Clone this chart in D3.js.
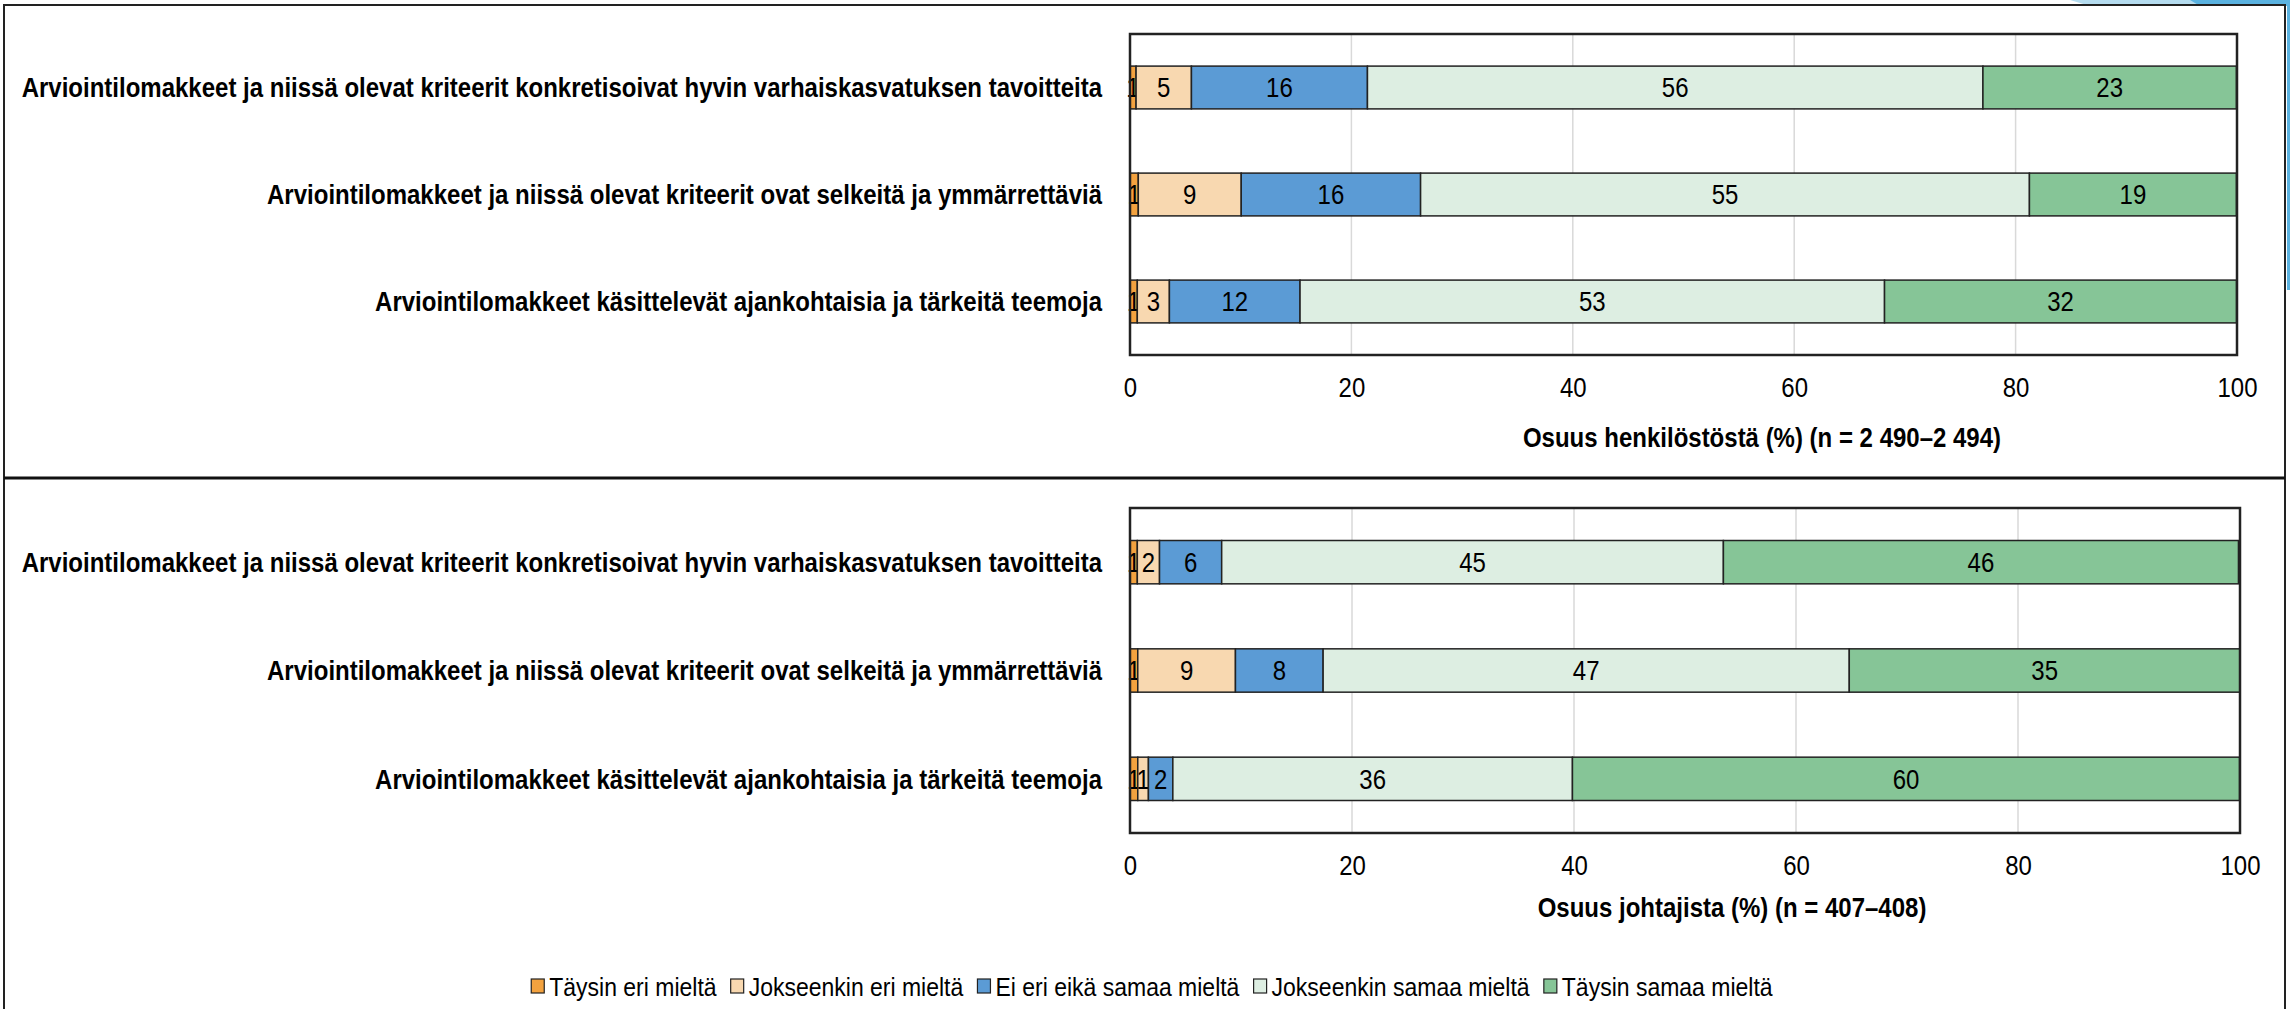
<!DOCTYPE html>
<html>
<head>
<meta charset="utf-8">
<script src="https://cdn.jsdelivr.net/npm/d3@7"></script>
<style>
  body { margin: 0; background: #fff; }
  svg { display: block; }
  text { font-family: "Liberation Sans", Arial, sans-serif; fill: #000; }
</style>
</head>
<body>
<svg id="chart" width="2290" height="1009"></svg>
<script>
// kysymykset (ylhäältä alas)
var categories = [
  "Arviointilomakkeet ja niissä olevat kriteerit konkretisoivat hyvin varhaiskasvatuksen tavoitteita",
  "Arviointilomakkeet ja niissä olevat kriteerit ovat selkeitä ja ymmärrettäviä",
  "Arviointilomakkeet käsittelevät ajankohtaisia ja tärkeitä teemoja"
];
var seriesNames = [
  "Täysin eri mieltä",
  "Jokseenkin eri mieltä",
  "Ei eri eikä samaa mieltä",
  "Jokseenkin samaa mieltä",
  "Täysin samaa mieltä"
];
var seriesColors = ["#f3a23f", "#f8d8b0", "#5b9bd5", "#ddeee2", "#86c597"];

// henkilöstö
var staffValues = [
  [0.55, 5.0, 15.9, 55.6, 22.9],
  [0.75, 9.3, 16.2, 55.0, 18.7],
  [0.66, 2.9, 11.8, 52.8, 31.8]
];
// johtajat
var leaderValues = [
  [0.66, 2.0, 5.6, 45.2, 46.4],
  [0.7, 8.8, 7.9, 47.4, 35.2],
  [0.7, 0.96, 2.2, 36.0, 60.1]
];
var xTicks = [0, 20, 40, 60, 80, 100];
var staffTitle = "Osuus henkilöstöstä (%) (n = 2 490–2 494)";
var leaderTitle = "Osuus johtajista (%) (n = 407–408)";

// alkuperäisessä kuvassa teksti on hieman venytetty pystysuunnassa
var stretchY = 1.15;
function stretch(sel) {
  sel.each(function () {
    var t = d3.select(this);
    var tx = +t.attr("x") || 0;
    var ty = +t.attr("y") || 0;
    t.attr("x", 0).attr("y", 0)
      .attr("transform", "translate(" + tx + "," + ty + ") scale(1," + stretchY + ")");
  });
}

var svg = d3.select("#chart");

// koriste oikeassa yläkulmassa
svg.append("path")
  .attr("d", "M2070,0 L2200,0 L2200,6 L2090,6 Z")
  .attr("fill", "#b5dcef");
svg.append("path")
  .attr("d", "M2190,0 L2290,0 L2290,290 L2287,290 L2287,6 L2200,6 Z")
  .attr("fill", "#5ab2e0");

// kehykset
svg.append("rect")
  .attr("x", 4).attr("y", 5)
  .attr("width", 2281).attr("height", 1020)
  .attr("fill", "none").attr("stroke", "#222").attr("stroke-width", 2);
svg.append("line")
  .attr("x1", 4).attr("x2", 2285)
  .attr("y1", 478).attr("y2", 478)
  .attr("stroke", "#111").attr("stroke-width", 3);

function drawPanel(values, box, title, titleX, titleY) {
  var rows = values.map(function (v, i) {
    var r = { cat: categories[i] };
    seriesNames.forEach(function (s, j) { r[s] = v[j]; });
    return r;
  });

  var x = d3.scaleLinear().domain([0, 100]).range([box.left, box.right]);
  var y = d3.scaleBand()
    .domain(categories)
    .range([box.top, box.bottom])
    .paddingInner(0.6)
    .paddingOuter(0.3);

  var g = svg.append("g");

  // ruudukko
  g.selectAll(".grid")
    .data(xTicks.slice(1, -1))
    .enter()
    .append("line")
    .attr("x1", function (d) { return x(d); })
    .attr("x2", function (d) { return x(d); })
    .attr("y1", box.top)
    .attr("y2", box.bottom)
    .attr("stroke", "#d9d9d9")
    .attr("stroke-width", 1.5);

  var stacked = d3.stack().keys(seriesNames)(rows);

  var layers = g.selectAll(".layer")
    .data(stacked)
    .enter()
    .append("g")
    .attr("fill", function (d, i) { return seriesColors[i]; });

  layers.selectAll("rect")
    .data(function (d) { return d; })
    .enter()
    .append("rect")
    .attr("x", function (d) { return x(d[0]); })
    .attr("y", function (d) { return y(d.data.cat); })
    .attr("width", function (d) { return x(d[1]) - x(d[0]); })
    .attr("height", y.bandwidth())
    .attr("stroke", "#222")
    .attr("stroke-width", 1.5);

  // arvot
  layers.selectAll("text")
    .data(function (d) { return d; })
    .enter()
    .append("text")
    .attr("x", function (d) { return x((d[0] + d[1]) / 2); })
    .attr("y", function (d) { return y(d.data.cat) + y.bandwidth() / 2; })
    .attr("dy", "0.36em")
    .attr("text-anchor", "middle")
    .style("font-size", "24px")
    .style("fill", "#000")
    .text(function (d) { return Math.round(d[1] - d[0]); })
    .call(stretch);

  // kehys
  g.append("rect")
    .attr("x", box.left).attr("y", box.top)
    .attr("width", box.right - box.left)
    .attr("height", box.bottom - box.top)
    .attr("fill", "none")
    .attr("stroke", "#222")
    .attr("stroke-width", 2.5);

  // kategoriat
  g.selectAll(".cat")
    .data(categories)
    .enter()
    .append("text")
    .attr("x", box.left - 28)
    .attr("y", function (d) { return y(d) + y.bandwidth() / 2; })
    .attr("dy", "0.36em")
    .attr("text-anchor", "end")
    .style("font-size", "24px")
    .style("font-weight", "bold")
    .text(function (d) { return d; })
    .call(stretch);

  // x-akseli
  var axis = g.append("g")
    .attr("transform", "translate(0," + box.bottom + ")")
    .call(d3.axisBottom(x).tickValues(xTicks).tickSize(0).tickPadding(22));
  axis.select(".domain").remove();
  axis.selectAll("text")
    .style("font-size", "24px")
    .style("font-family", "'Liberation Sans', Arial, sans-serif")
    .attr("fill", "#000")
    .call(stretch);

  g.append("text")
    .attr("x", titleX)
    .attr("y", titleY)
    .attr("dy", "0.36em")
    .attr("text-anchor", "middle")
    .style("font-size", "24px")
    .style("font-weight", "bold")
    .text(title)
    .call(stretch);
}

drawPanel(staffValues, { left: 1130, right: 2237, top: 34, bottom: 355 }, staffTitle, 1762, 437);
drawPanel(leaderValues, { left: 1130, right: 2240, top: 508, bottom: 833 }, leaderTitle, 1732, 907);

// selite
var legend = svg.append("g");
var lx = 0;
seriesNames.forEach(function (name, i) {
  var item = legend.append("g").attr("transform", "translate(" + lx + ",0)");
  item.append("rect")
    .attr("x", 0).attr("y", -7)
    .attr("width", 13).attr("height", 14)
    .attr("fill", seriesColors[i])
    .attr("stroke", "#222")
    .attr("stroke-width", 1.2);
  var t = item.append("text")
    .attr("x", 18)
    .attr("y", 0)
    .attr("dy", "0.36em")
    .style("font-size", "23px")
    .text(name);
  lx += 18 + t.node().getComputedTextLength() + 14;
  t.call(stretch);
});
legend.attr("transform", "translate(" + (1152 - (lx - 14) / 2) + ",986)");
</script>
</body>
</html>
